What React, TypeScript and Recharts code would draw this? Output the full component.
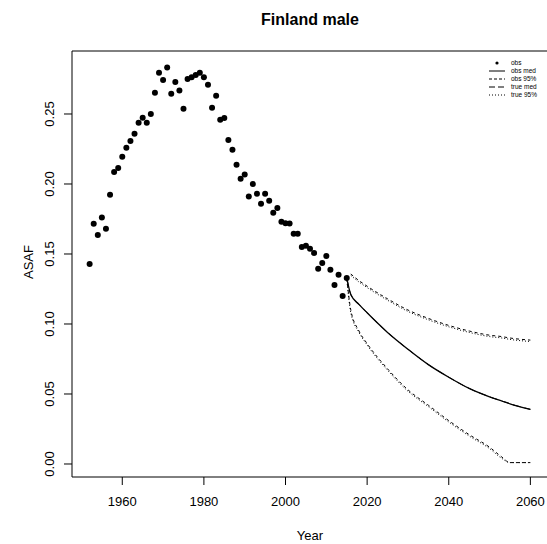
import React from 'react';
import { ComposedChart, Scatter, Line, XAxis, YAxis, ReferenceArea, Customized } from 'recharts';

const obsYears = [
  1952, 1953, 1954, 1955, 1956, 1957, 1958, 1959, 1960, 1961, 1962, 1963, 1964, 1965, 1966, 1967,
  1968, 1969, 1970, 1971, 1972, 1973, 1974, 1975, 1976, 1977, 1978, 1979, 1980, 1981, 1982, 1983,
  1984, 1985, 1986, 1987, 1988, 1989, 1990, 1991, 1992, 1993, 1994, 1995, 1996, 1997, 1998, 1999,
  2000, 2001, 2002, 2003, 2004, 2005, 2006, 2007, 2008, 2009, 2010, 2011, 2012, 2013, 2014, 2015,
];
const obsValues = [
  0.1429, 0.1716, 0.1636, 0.1760, 0.1681, 0.1924, 0.2086, 0.2114, 0.2195, 0.2259, 0.2307, 0.2359, 0.2438, 0.2474, 0.2438, 0.2500,
  0.2652, 0.2795, 0.2743, 0.2833, 0.2645, 0.2729, 0.2667, 0.2538, 0.2750, 0.2762, 0.2779, 0.2795, 0.2762, 0.2709, 0.2545, 0.2631,
  0.2459, 0.2471, 0.2314, 0.2245, 0.2138, 0.2038, 0.2067, 0.1910, 0.2000, 0.1931, 0.1859, 0.1931, 0.1881, 0.1795, 0.1829, 0.1731,
  0.1719, 0.1717, 0.1645, 0.1645, 0.1550, 0.1559, 0.1538, 0.1507, 0.1395, 0.1436, 0.1486, 0.1388, 0.1279, 0.1352, 0.1200, 0.1329,
];

const projYears = [2015, 2016, 2018, 2020, 2025, 2030, 2035, 2040, 2045, 2050, 2053, 2055, 2060];
const obsMed = [0.1329, 0.121, 0.114, 0.108, 0.094, 0.082, 0.071, 0.062, 0.054, 0.048, 0.045, 0.043, 0.039];
const obsUpper = [null, 0.1357, 0.131, 0.127, 0.118, 0.110, 0.104, 0.099, 0.095, 0.092, 0.091, 0.090, 0.0885];
const obsLower = [0.1329, 0.110, 0.095, 0.086, 0.068, 0.053, 0.042, 0.031, 0.021, 0.012, 0.005, 0.001, 0.001];
const trueMed = [0.1329, 0.121, 0.114, 0.108, 0.094, 0.082, 0.071, 0.062, 0.054, 0.048, 0.045, 0.043, 0.039];
const trueUpper = [null, 0.1347, 0.130, 0.126, 0.117, 0.109, 0.103, 0.098, 0.094, 0.091, 0.090, 0.089, 0.0875];
const trueLower = [0.1329, 0.108, 0.094, 0.085, 0.067, 0.052, 0.041, 0.030, 0.020, 0.011, 0.004, 0.001, 0.001];

const xTicks = [1960, 1980, 2000, 2020, 2040, 2060];
const yTicks = [0, 0.05, 0.1, 0.15, 0.2, 0.25];
const yTickLabels = ['0.00', '0.05', '0.10', '0.15', '0.20', '0.25'];

const legendLabels = ['obs', 'obs med', 'obs 95%', 'true med', 'true 95%'];

const X_MIN = 1947.68;
const X_MAX = 2064.32;
const Y_MIN = -0.00929;
const Y_MAX = 0.295;

const FONT = "'Liberation Sans', Arial, Helvetica, sans-serif";

const toPts = (years: number[], vals: (number | null)[]) =>
  years
    .map((x, i) => ({ x, y: vals[i] }))
    .filter((d) => d.y !== null && d.y !== undefined);

const obsData = obsYears.map((x, i) => ({ x, y: obsValues[i] }));

const XTick = (props: any) => {
  const { x, y, payload } = props;
  return (
    <text x={x} y={y + 19} textAnchor="middle" fontSize={13} fontFamily={FONT} fill="#000">
      {String(payload.value)}
    </text>
  );
};

const YTick = (props: any) => {
  const { x, y, payload } = props;
  const idx = yTicks.findIndex((t) => Math.abs(t - payload.value) < 1e-9);
  const bx = x - 8;
  return (
    <text
      x={bx}
      y={y}
      transform={`rotate(-90 ${bx} ${y})`}
      textAnchor="middle"
      fontSize={13}
      fontFamily={FONT}
      fill="#000"
    >
      {idx >= 0 ? yTickLabels[idx] : String(payload.value)}
    </text>
  );
};

const Dot = (props: any) => <circle cx={props.cx} cy={props.cy} r={3} fill="#000" />;

const Decorations = () => {
  const lx1 = 489;
  const lx2 = 505;
  const tx = 511;
  const rows = [63, 71, 79, 87, 95];
  const dashes = ['', '', '3 2', '6 3', '1 2'];
  return (
    <g>
      <text x={310} y={25} textAnchor="middle" fontSize={16} fontWeight="bold" fontFamily={FONT} fill="#000">
        Finland male
      </text>
      <text x={310} y={539.5} textAnchor="middle" fontSize={13} fontFamily={FONT} fill="#000">
        Year
      </text>
      <text
        x={32.5}
        y={262}
        transform="rotate(-90 32.5 262)"
        textAnchor="middle"
        fontSize={13}
        fontFamily={FONT}
        fill="#000"
      >
        ASAF
      </text>
      {legendLabels.map((lab, i) => (
        <g key={lab}>
          {i === 0 ? (
            <circle cx={(lx1 + lx2) / 2} cy={rows[i]} r={1.6} fill="#000" />
          ) : (
            <line
              x1={lx1}
              x2={lx2}
              y1={rows[i]}
              y2={rows[i]}
              stroke="#000"
              strokeWidth={1}
              strokeDasharray={dashes[i] || undefined}
            />
          )}
          <text x={tx} y={rows[i] + 2.3} fontSize={6.5} fontFamily={FONT} fill="#000">
            {lab}
          </text>
        </g>
      ))}
    </g>
  );
};

export default function App() {
  return (
    <div style={{ position: 'absolute', left: 0, top: 0, width: 547, height: 544, overflow: 'hidden', background: '#fff' }}>
      <ComposedChart width={548} height={544} margin={{ top: 51, right: 0, left: 0, bottom: 0 }}>
        <XAxis
          type="number"
          dataKey="x"
          domain={[X_MIN, X_MAX]}
          ticks={xTicks}
          allowDataOverflow
          axisLine={false}
          tickLine={{ stroke: '#000' }}
          tickSize={8}
          height={67}
          tick={<XTick />}
          interval={0}
        />
        <YAxis
          type="number"
          dataKey="y"
          domain={[Y_MIN, Y_MAX]}
          ticks={yTicks}
          allowDataOverflow
          axisLine={false}
          tickLine={{ stroke: '#000' }}
          tickSize={8}
          width={72}
          tick={<YTick />}
          interval={0}
        />
        <ReferenceArea
          x1={X_MIN}
          x2={X_MAX}
          y1={Y_MIN}
          y2={Y_MAX}
          fill="none"
          fillOpacity={0}
          stroke="#000"
          strokeWidth={1}
          ifOverflow="visible"
        />
        <Line data={toPts(projYears, trueMed)} dataKey="y" type="monotone" stroke="#000" strokeWidth={1} strokeDasharray="8 4" dot={false} isAnimationActive={false} />
        <Line data={toPts(projYears, trueUpper)} dataKey="y" type="monotone" stroke="#000" strokeWidth={1} strokeDasharray="1 2" dot={false} isAnimationActive={false} />
        <Line data={toPts(projYears, trueLower)} dataKey="y" type="monotone" stroke="#000" strokeWidth={1} strokeDasharray="1 2" dot={false} isAnimationActive={false} />
        <Line data={toPts(projYears, obsUpper)} dataKey="y" type="monotone" stroke="#000" strokeWidth={1} strokeDasharray="3 3" dot={false} isAnimationActive={false} />
        <Line data={toPts(projYears, obsLower)} dataKey="y" type="monotone" stroke="#000" strokeWidth={1} strokeDasharray="3 3" dot={false} isAnimationActive={false} />
        <Line data={toPts(projYears, obsMed)} dataKey="y" type="monotone" stroke="#000" strokeWidth={1.3} dot={false} isAnimationActive={false} />
        <Scatter data={obsData} dataKey="y" fill="#000" shape={<Dot />} isAnimationActive={false} />
        <Customized component={Decorations} />
      </ComposedChart>
    </div>
  );
}
